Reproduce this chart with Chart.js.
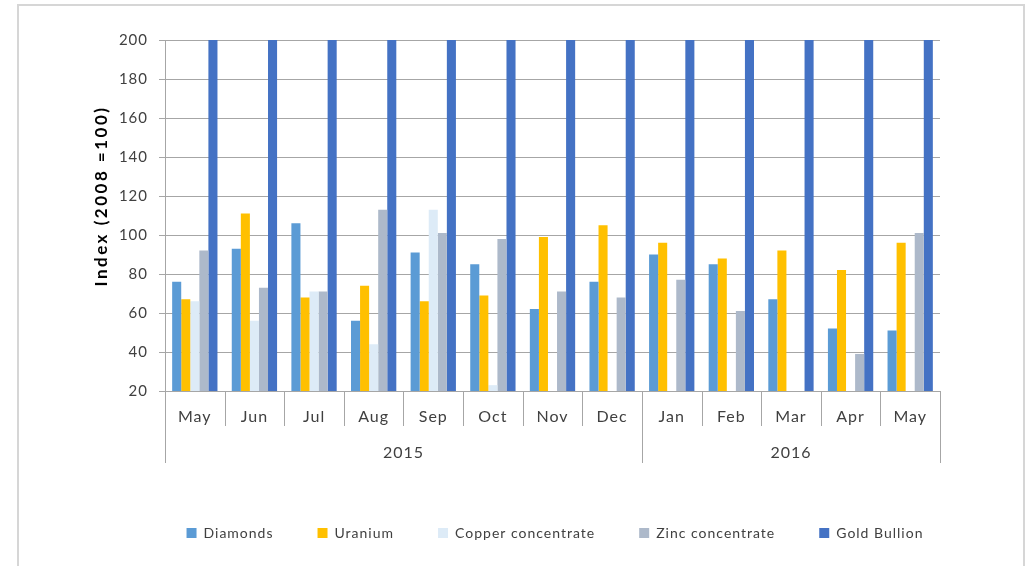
<!DOCTYPE html>
<html><head><meta charset="utf-8">
<script src="https://cdn.jsdelivr.net/npm/chart.js@4.4.1/dist/chart.umd.min.js"></script>
<style>
html,body{margin:0;padding:0;background:#fff;}
#wrap{position:relative;width:1027px;height:566px;overflow:hidden;background:#fff;}
#frame{position:absolute;left:17px;top:4px;width:1008px;height:600px;border:2px solid #d6d6d6;box-sizing:border-box;pointer-events:none;}
canvas{position:absolute;left:0;top:0;}
</style></head><body>
<div id="wrap"><canvas id="c" width="1027" height="566"></canvas><div id="frame"></div></div>
<script>
const months = ['May','Jun','Jul','Aug','Sep','Oct','Nov','Dec','Jan','Feb','Mar','Apr','May'];
const years = ['2015','2016'];
const yearSpans = [8, 5];
const yTicks = [20, 40, 60, 80, 100, 120, 140, 160, 180, 200];
const seriesNames = ['Diamonds','Uranium','Copper concentrate','Zinc concentrate','Gold Bullion'];
const diamonds = [76, 93, 106, 56, 91, 85, 62, 76, 90, 85, 67, 52, 51];
const uranium  = [67, 111, 68, 74, 66, 69, 99, 105, 96, 88, 92, 82, 96];
const copper   = [66, 56, 71, 44, 113, 23, null, null, null, null, null, null, null];
const zinc     = [92, 73, 71, 113, 101, 98, 71, 68, 77, 61, null, 39, 101];
const gold     = [230, 235, 240, 235, 240, 235, 230, 240, 250, 265, 260, 270, 265];
const colors   = ['#5B9BD5', '#FFC000', '#DDEBF7', '#ADB9CA', '#4472C4'];

const FONT = 'Lato';
const TEXT = '#404040';
const GRID = '#a6a6a6';

const canvas = document.getElementById('c');
const ctx = canvas.getContext('2d');
function spacingFor(font){
  if (/bold/.test(font)) return '2.5px';
  return '1px';
}
const origFill = ctx.fillText.bind(ctx);
const origMeasure = ctx.measureText.bind(ctx);
ctx.fillText = function(t, x, y, mw){ try{ ctx.letterSpacing = spacingFor(ctx.font); }catch(e){} return mw === undefined ? origFill(t, x, y) : origFill(t, x, y, mw); };
ctx.measureText = function(t){ try{ ctx.letterSpacing = spacingFor(ctx.font); }catch(e){} return origMeasure(t); };

const deco = {
  id: 'deco',
  afterLayout(chart){
    const lg = chart.legend;
    if (lg) {
      const d = 555 - (lg.left + lg.right) / 2;
      lg.left += d; lg.right += d;
    }
  },
  afterDraw(chart){
    const {ctx, scales: {x, y}} = chart;
    const yb = y.bottom;
    ctx.save();
    ctx.strokeStyle = GRID;
    ctx.lineWidth = 1;
    const bounds = [0];
    let acc = 0;
    yearSpans.forEach(s => { acc += s; bounds.push(acc); });
    for (let i = 0; i <= months.length; i++) {
      const px = Math.round(x.getPixelForValue(i - 0.5)) + 0.5;
      const long = bounds.includes(i);
      ctx.beginPath();
      ctx.moveTo(px, yb);
      ctx.lineTo(px, yb + (long ? 72 : 35));
      ctx.stroke();
    }
    ctx.fillStyle = TEXT;
    ctx.font = 'normal 16px ' + FONT;
    ctx.textAlign = 'center';
    ctx.textBaseline = 'middle';
    for (let k = 0; k < years.length; k++) {
      const a = x.getPixelForValue(bounds[k] - 0.5);
      const b = x.getPixelForValue(bounds[k + 1] - 0.5);
      ctx.fillText(years[k], (a + b) / 2, yb + 62);
    }
    ctx.translate(102, 196);
    ctx.rotate(-Math.PI / 2);
    ctx.font = 'bold 17px ' + FONT;
    ctx.fillStyle = '#000';
    ctx.fillText('Index (2008 =100)', 0, 0);
    ctx.restore();
  }
};

const data = {
  labels: months,
  datasets: [diamonds, uranium, copper, zinc, gold].map((v, i) => ({
    label: seriesNames[i],
    data: v,
    backgroundColor: colors[i],
    borderWidth: 0,
    categoryPercentage: 0.76,
    barPercentage: 1.0
  }))
};

new Chart(ctx, {
  type: 'bar',
  data,
  options: {
    responsive: false,
    devicePixelRatio: 1,
    animation: false,
    layout: { padding: { top: 40, right: 87, bottom: 16, left: 0 } },
    plugins: {
      legend: {
        position: 'bottom',
        labels: {
          boxWidth: 10, boxHeight: 10, padding: 44,
          color: TEXT,
          font: { family: FONT, size: 14 }
        }
      },
      tooltip: { enabled: false }
    },
    scales: {
      x: {
        grid: { display: false, drawTicks: false },
        border: { display: false },
        ticks: { color: TEXT, font: { family: FONT, size: 16 }, padding: 16, maxRotation: 0, autoSkip: false },
        afterFit: s => { s.height = 91; }
      },
      y: {
        min: 20, max: 200,
        afterBuildTicks: s => { s.ticks = yTicks.map(v => ({ value: v })); },
        grid: { color: GRID, lineWidth: 1, tickLength: 6 },
        border: { color: GRID },
        ticks: { color: TEXT, font: { family: FONT, size: 15 }, padding: 11 },
        afterFit: s => { s.width = 165; }
      }
    }
  },
  plugins: [deco]
});
</script>
</body></html>
